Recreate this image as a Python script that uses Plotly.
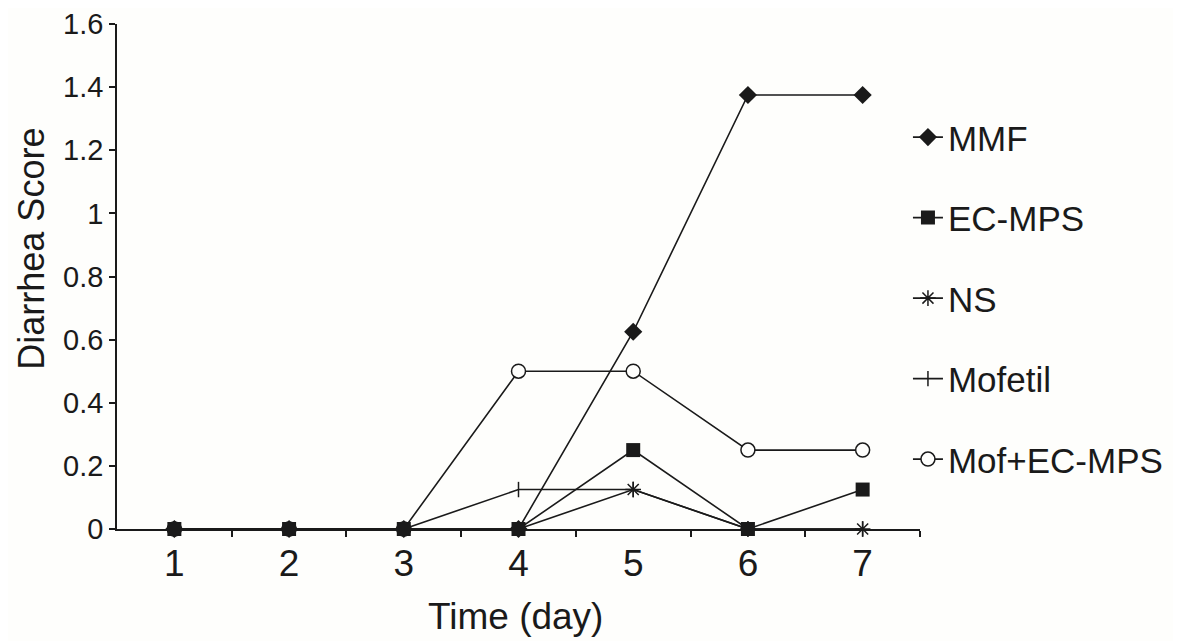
import plotly.graph_objects as go

days = [1, 2, 3, 4, 5, 6, 7]
series_names = ["MMF", "EC-MPS", "NS", "Mofetil", "Mof+EC-MPS"]
mmf = [0, 0, 0, 0, 0.625, 1.375, 1.375]
ec_mps = [0, 0, 0, 0, 0.25, 0, 0.125]
ns = [0, 0, 0, 0, 0.125, 0, 0]
mofetil = [0, 0, 0, 0.125, 0.125, 0, 0]
mof_ec = [0, 0, 0, 0.5, 0.5, 0.25, 0.25]
y_ticks = [0, 0.2, 0.4, 0.6, 0.8, 1, 1.2, 1.4, 1.6]

INK = "#1a1a1a"
FONT = "Liberation Sans, Arial, sans-serif"

styles = {
    "MMF": dict(symbol="diamond", size=14, color=INK, line=dict(width=0)),
    "EC-MPS": dict(symbol="square", size=14, color=INK, line=dict(width=0)),
    "NS": dict(symbol="asterisk-open", size=13, color=INK, line=dict(width=1.5, color=INK)),
    "Mofetil": dict(symbol="line-ns-open", size=11, color=INK, line=dict(width=1.5, color=INK)),
    "Mof+EC-MPS": dict(symbol="circle", size=14, color="#fefefc", line=dict(width=1.5, color=INK)),
}
values = {"MMF": mmf, "EC-MPS": ec_mps, "NS": ns, "Mofetil": mofetil, "Mof+EC-MPS": mof_ec}
draw_order = ["Mof+EC-MPS", "Mofetil", "NS", "MMF", "EC-MPS"]

fig = go.Figure()
for name in draw_order:
    fig.add_trace(go.Scatter(
        x=days, y=values[name], name=name, mode="lines+markers",
        line=dict(color=INK, width=1.6),
        marker=styles[name],
        legendrank=series_names.index(name) + 1,
        legendgroup=name,
        cliponaxis=False,
    ))

fig.update_layout(
    width=1173, height=633,
    paper_bgcolor="#fefefc", plot_bgcolor="#fefefc",
    margin=dict(l=109, r=261, t=16, b=112),
    font=dict(family=FONT, size=29, color=INK),
    showlegend=True,
    legend=dict(x=0.985, xanchor="left", y=0.834, yanchor="top",
                font=dict(size=35, family=FONT), tracegroupgap=32,
                bgcolor="rgba(0,0,0,0)", itemwidth=30),
    xaxis=dict(
        range=[0.5, 7.5], tickvals=days, ticktext=[str(d) for d in days],
        ticks="", ticklen=0, showline=True, linecolor=INK, linewidth=1.5,
        showgrid=False, zeroline=False, automargin=False,
        minor=dict(tickvals=[d + 0.5 for d in days], ticks="outside", ticklen=6, tickcolor=INK, tickwidth=1.5),
        tickfont=dict(size=37), ticklabelstandoff=1,
    ),
    yaxis=dict(
        range=[0, 1.6], tickvals=y_ticks, ticktext=[("%g" % v) for v in y_ticks],
        ticks="outside", ticklen=6, tickcolor=INK, tickwidth=1.5,
        showline=True, linecolor=INK, linewidth=1.5,
        showgrid=False, zeroline=False, automargin=False,
        tickfont=dict(size=29), ticklabeloverflow="allow",
    ),
    annotations=[
        dict(text="Time (day)", xref="paper", yref="paper", x=0.496, y=-0.174,
             xanchor="center", yanchor="middle", showarrow=False, font=dict(size=37)),
        dict(text="Diarrhea Score", xref="paper", yref="paper", x=-0.1059, y=0.555,
             xanchor="center", yanchor="middle", textangle=-90, showarrow=False, font=dict(size=36)),
    ],
)

fig.write_html("out.html")
